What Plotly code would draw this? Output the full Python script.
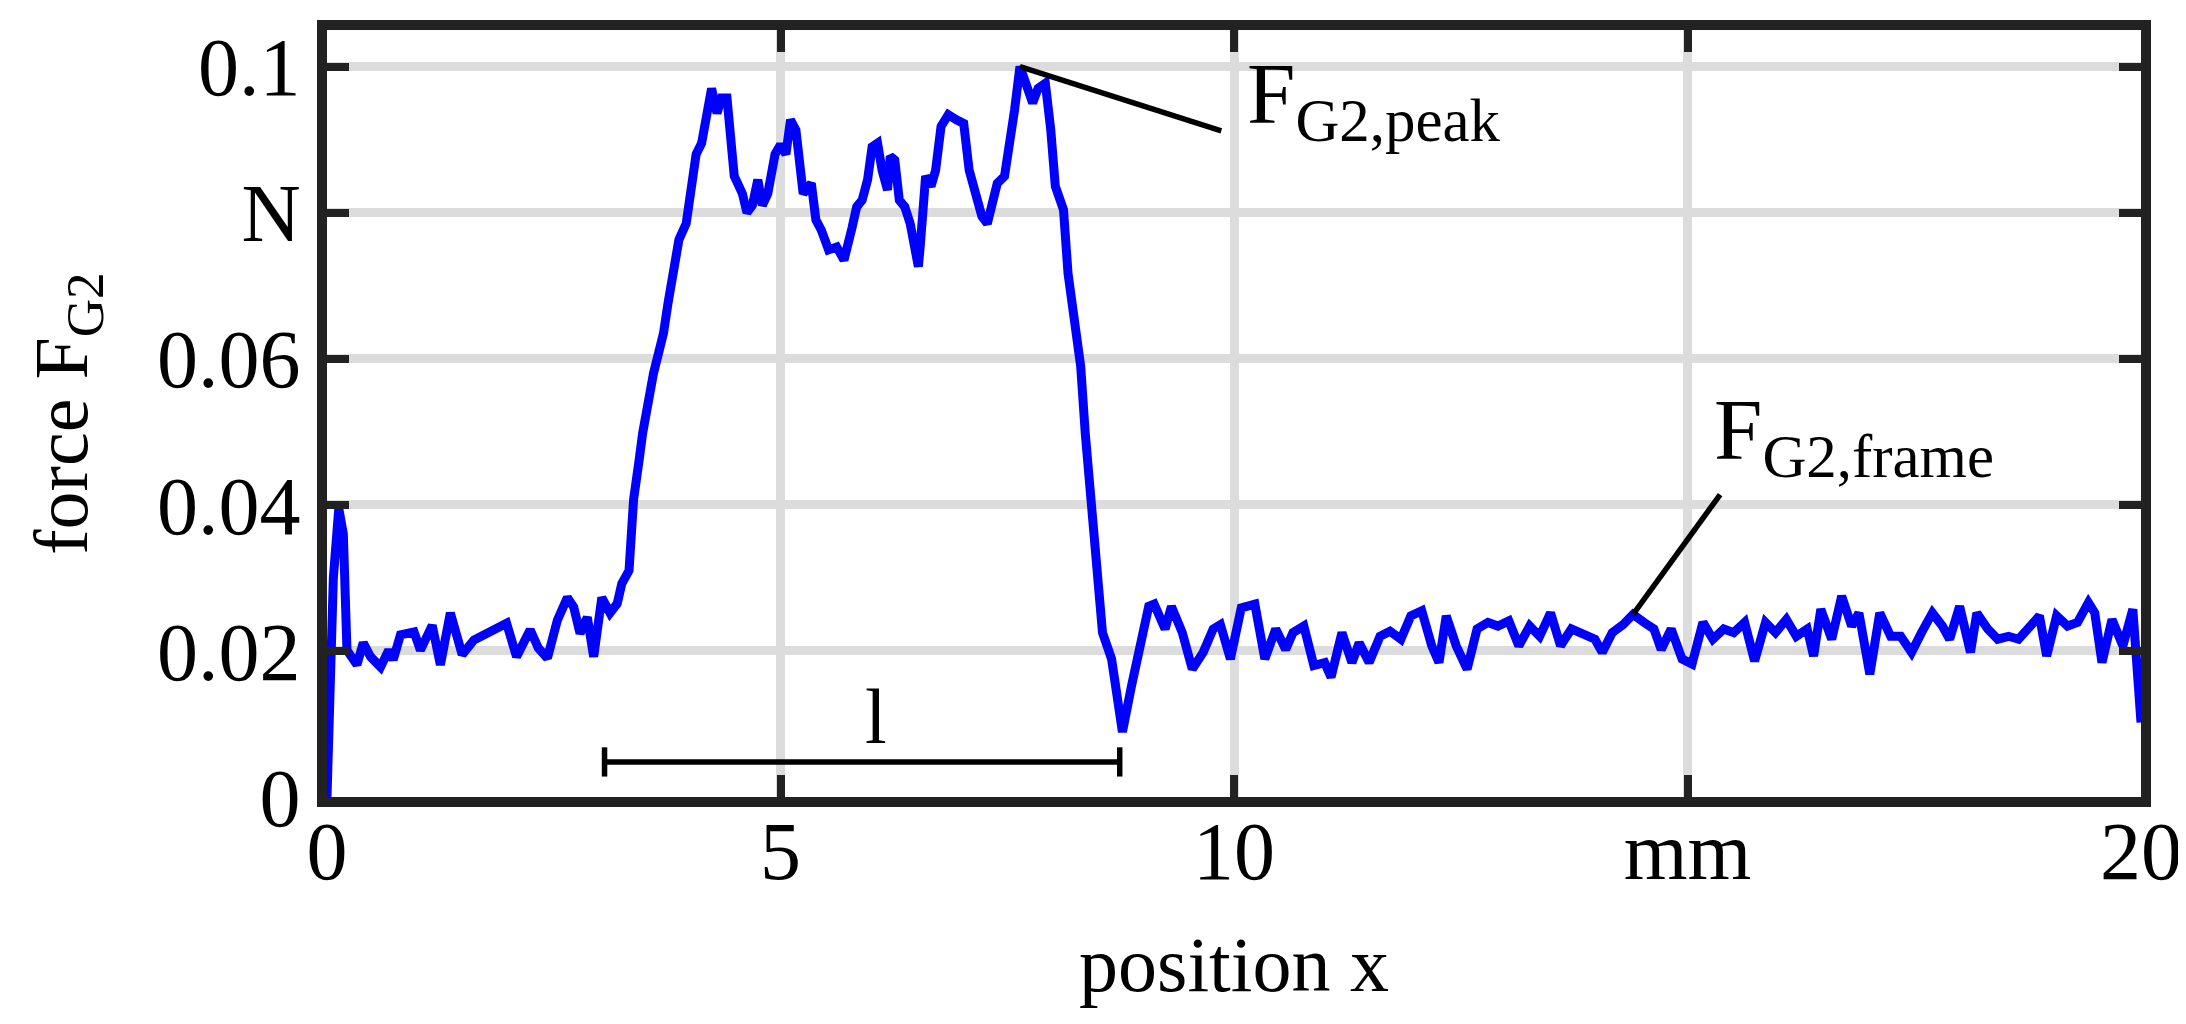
import plotly.graph_objects as go

# force trace (position in mm, force in N)
pos_start = [0.0, 0.07, 0.13, 0.18, 0.22, 0.33, 0.40, 0.48, 0.59, 0.68, 0.73, 0.81, 0.96, 1.03,
             1.16, 1.25, 1.36, 1.49, 1.62, 1.73, 1.84, 1.98, 2.09, 2.24, 2.33, 2.43, 2.54, 2.65,
             2.72, 2.79, 2.87, 2.94, 3.03, 3.12, 3.20, 3.25, 3.33, 3.38, 3.44]
force_start = [0.0, 0.030, 0.0395, 0.036, 0.0201, 0.0181, 0.0211, 0.0192, 0.0178, 0.0201,
               0.0188, 0.0222, 0.0226, 0.0201, 0.0235, 0.0181, 0.0252, 0.0195, 0.0215, 0.0222,
               0.0229, 0.0238, 0.0192, 0.0229, 0.0204, 0.019, 0.0242, 0.0273, 0.026, 0.0224,
               0.0246, 0.0192, 0.0273, 0.0252, 0.0265, 0.0292, 0.031, 0.0407, 0.046]

pos_plateau = [3.48, 3.60, 3.71, 3.76, 3.82, 3.88, 3.96, 4.02, 4.07, 4.13, 4.19, 4.24, 4.30, 4.35,
               4.41, 4.47, 4.49, 4.58, 4.63, 4.69, 4.75, 4.80, 4.86, 4.94, 5.00, 5.06, 5.11, 5.17,
               5.22, 5.25, 5.34, 5.39, 5.45, 5.53, 5.62, 5.70, 5.79, 5.84, 5.90, 5.96, 6.01, 6.07,
               6.12, 6.18, 6.21, 6.26, 6.31, 6.37, 6.43, 6.52, 6.54, 6.60, 6.66, 6.71, 6.77, 6.85,
               6.94, 7.02, 7.08, 7.16, 7.22, 7.28, 7.33, 7.39, 7.47, 7.53, 7.58, 7.64, 7.70, 7.78,
               7.84, 7.92, 7.98, 8.03, 8.12, 8.17, 8.23, 8.31]
force_plateau = [0.0498, 0.058, 0.0635, 0.0676, 0.073, 0.0763, 0.0785, 0.0836, 0.088, 0.0895,
                 0.0936, 0.097, 0.0936, 0.0957, 0.0957, 0.089, 0.085, 0.0826, 0.080, 0.081,
                 0.0845, 0.081, 0.0826, 0.088, 0.0893, 0.088, 0.0927, 0.0913, 0.0854, 0.0826,
                 0.084, 0.079, 0.0776, 0.0749, 0.0753, 0.0735, 0.078, 0.0808, 0.0817, 0.0845,
                 0.089, 0.0895, 0.0858, 0.0831, 0.0877, 0.0872, 0.0817, 0.0808, 0.0785, 0.0726,
                 0.0753, 0.085, 0.0836, 0.0858, 0.0918, 0.0934, 0.0927, 0.0922, 0.0858, 0.0826,
                 0.0795, 0.0785, 0.0817, 0.084, 0.085, 0.089, 0.094, 0.1, 0.098, 0.095, 0.097,
                 0.0977, 0.0913, 0.0836, 0.0804, 0.0717, 0.0662, 0.0589]

pos_end = [8.36, 8.46, 8.55, 8.65, 8.77, 8.87, 8.96, 9.06, 9.12, 9.24, 9.31, 9.43, 9.54, 9.66,
           9.77, 9.85, 9.96, 10.08, 10.23, 10.34, 10.46, 10.57, 10.65, 10.77, 10.88, 11.00,
           11.07, 11.19, 11.30, 11.38, 11.49, 11.61, 11.72, 11.84, 11.95, 12.07, 12.18, 12.26,
           12.34, 12.45, 12.57, 12.68, 12.80, 12.91, 13.03, 13.14, 13.26, 13.37, 13.49, 13.60,
           13.72, 13.87, 13.98, 14.06, 14.17, 14.29, 14.40, 14.52, 14.63, 14.71, 14.82, 14.94,
           15.05, 15.17, 15.28, 15.40, 15.51, 15.63, 15.74, 15.86, 15.97, 16.09, 16.20, 16.32,
           16.39, 16.47, 16.59, 16.70, 16.81, 16.89, 17.01, 17.12, 17.24, 17.35, 17.47, 17.58,
           17.70, 17.81, 17.89, 18.00, 18.12, 18.19, 18.31, 18.42, 18.54, 18.65, 18.77, 18.88,
           18.96, 19.07, 19.19, 19.30, 19.42, 19.49, 19.57, 19.68, 19.80, 19.91, 20.0]
force_end = [0.0498, 0.036, 0.0225, 0.0189, 0.0089, 0.0152, 0.0202, 0.0261, 0.0264, 0.023,
             0.0261, 0.0225, 0.0175, 0.0198, 0.023, 0.0236, 0.0189, 0.0259, 0.0264, 0.0189,
             0.023, 0.0202, 0.0225, 0.0234, 0.018, 0.0184, 0.0164, 0.0225, 0.0184, 0.0211,
             0.0184, 0.022, 0.0227, 0.0216, 0.0248, 0.0255, 0.0207, 0.0184, 0.0248, 0.0207,
             0.0175, 0.023, 0.0239, 0.0234, 0.0241, 0.0207, 0.0234, 0.022, 0.0252, 0.0207,
             0.023, 0.022, 0.0216, 0.0198, 0.0225, 0.0236, 0.025, 0.0239, 0.023, 0.0202,
             0.023, 0.0189, 0.0182, 0.0239, 0.0216, 0.023, 0.0225, 0.0239, 0.0186, 0.0239,
             0.0225, 0.0243, 0.022, 0.023, 0.0193, 0.0257, 0.0216, 0.0275, 0.0234, 0.0252,
             0.0168, 0.0252, 0.022, 0.022, 0.0198, 0.0225, 0.0252, 0.0234, 0.0216, 0.0261,
             0.0198, 0.0252, 0.023, 0.0216, 0.022, 0.0216, 0.0234, 0.0248, 0.0193, 0.0248,
             0.0234, 0.0239, 0.0266, 0.0252, 0.0184, 0.0243, 0.0207, 0.0257, 0.0102]

x_ticks = [0, 5, 10, 15, 20]
x_tick_labels = ['0', '5', '10', 'mm', '20']
y_ticks = [0, 0.02, 0.04, 0.06, 0.08, 0.1]
y_tick_labels = ['0', '0.02', '0.04', '0.06', 'N', '0.1']

# bracket marking the length l
l_start, l_end, l_level = 3.06, 8.74, 0.0048

# leader lines: (from point on curve) -> (end near label)
peak_leader_x, peak_leader_y = [7.64, 9.86], [0.1, 0.0912]
frame_leader_x, frame_leader_y = [14.40, 15.36], [0.025, 0.0414]

FONT = 'Liberation Serif'

fig = go.Figure()
fig.add_trace(go.Scatter(x=pos_start + pos_plateau + pos_end,
                         y=force_start + force_plateau + force_end,
                         mode='lines', line=dict(color='#0000ff', width=9),
                         showlegend=False))

# length bracket
fig.add_trace(go.Scatter(x=[l_start, l_end], y=[l_level, l_level], mode='lines',
                         line=dict(color='black', width=5.5), showlegend=False))
for xe in [l_start, l_end]:
    fig.add_trace(go.Scatter(x=[xe, xe], y=[l_level - 0.002, l_level + 0.002], mode='lines',
                             line=dict(color='black', width=5.5), showlegend=False))

fig.add_trace(go.Scatter(x=peak_leader_x, y=peak_leader_y, mode='lines',
                         line=dict(color='black', width=5.5), showlegend=False))
fig.add_trace(go.Scatter(x=frame_leader_x, y=frame_leader_y, mode='lines',
                         line=dict(color='black', width=5.5), showlegend=False))

fig.add_annotation(x=10.12, y=0.0955, xanchor='left', yanchor='middle', showarrow=False,
                   text='F<sub>G2,peak</sub>', font=dict(family=FONT, size=87, color='black'))
fig.add_annotation(x=15.27, y=0.0495, xanchor='left', yanchor='middle', showarrow=False,
                   text='F<sub>G2,frame</sub>', font=dict(family=FONT, size=87, color='black'))
fig.add_annotation(x=6.05, y=0.011, xanchor='center', yanchor='middle', showarrow=False,
                   text='l', font=dict(family=FONT, size=78, color='black'))

axis_common = dict(showline=True, linewidth=10, linecolor='#222222', mirror='ticks',
                   ticks='inside', ticklen=22, tickwidth=8, tickcolor='#222222',
                   showgrid=True, gridcolor='#dcdcdc', gridwidth=9, zeroline=False,
                   tickfont=dict(family=FONT, size=82, color='black'))

fig.update_layout(
    width=2186, height=1024,
    plot_bgcolor='white', paper_bgcolor='white',
    margin=dict(l=319, r=53, t=17, b=235),
    xaxis=dict(range=[0, 20], tickvals=x_ticks, ticktext=x_tick_labels,
               ticklabelstandoff=-26,
               title=dict(text='position x', font=dict(family=FONT, size=78, color='black'),
                          standoff=44),
               **axis_common),
    yaxis=dict(range=[0, 0.105], tickvals=y_ticks, ticktext=y_tick_labels,
               title=dict(text='force F<sub>G2</sub>', font=dict(family=FONT, size=76, color='black'),
                          standoff=48),
               **axis_common),
)

fig.write_html('out.html')
